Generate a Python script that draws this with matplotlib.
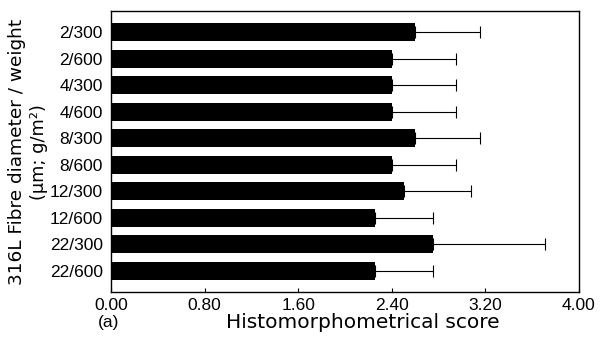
import matplotlib
matplotlib.use('Agg')
import matplotlib.pyplot as plt
import numpy as np

plt.rcParams['font.family'] = ['Liberation Sans', 'DejaVu Sans']

groups = ['2/300', '2/600', '4/300', '4/600', '8/300',
          '8/600', '12/300', '12/600', '22/300', '22/600']
scores = [2.60, 2.40, 2.40, 2.40, 2.60, 2.40, 2.50, 2.26, 2.75, 2.26]
errors = [0.55, 0.55, 0.55, 0.55, 0.55, 0.55, 0.58, 0.49, 0.96, 0.49]
xticks = [0.0, 0.8, 1.6, 2.4, 3.2, 4.0]

fig = plt.figure(figsize=(6.01, 3.41), dpi=100)
ax = fig.add_axes([111 / 601, 1 - 292 / 341, 468 / 601, 281 / 341])

y = np.arange(len(groups))
ax.barh(y, scores, height=0.68, color='black', zorder=2)
ax.errorbar(scores, y, xerr=[np.zeros(len(errors)), errors], fmt='none',
            ecolor='black', elinewidth=0.8, capsize=4, capthick=0.8, zorder=1)

ax.set_xlim(0, 4.0)
ax.set_ylim(len(groups) - 1 + 0.79, -0.79)
ax.set_yticks(y)
ax.set_yticklabels(groups, fontsize=12.5)
ax.set_xticks(xticks)
ax.set_xticklabels([f'{v:.2f}' for v in xticks], fontsize=12.5)
ax.tick_params(axis='x', direction='in', length=3, pad=4)
ax.tick_params(axis='y', length=0, pad=6)
for s in ax.spines.values():
    s.set_linewidth(1.0)

# axis labels: the scan uses wide letter spacing, DejaVu is closest
fig.text(363 / 601, 1 - 323 / 341, 'Histomorphometrical score', fontsize=14.5,
         family='DejaVu Sans', ha='center', va='center')
fig.text(109 / 601, 1 - 323 / 341, '(a)', fontsize=12.5, ha='center', va='center')
fig.text(17 / 601, 1 - 152 / 341, '316L Fibre diameter / weight', fontsize=13.3,
         family='DejaVu Sans', rotation=90, ha='center', va='center')
fig.text(39 / 601, 1 - 152 / 341, '(µm; g/m²)', fontsize=12.8,
         family='DejaVu Sans', rotation=90, ha='center', va='center')

fig.savefig('out.png', dpi=100)
